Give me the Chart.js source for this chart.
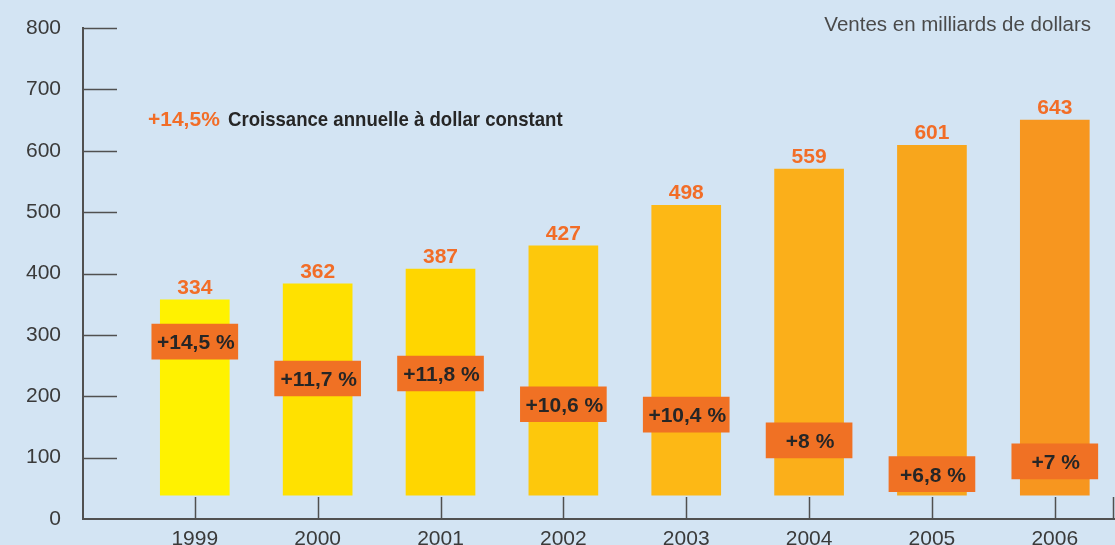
<!DOCTYPE html>
<html>
<head>
<meta charset="utf-8">
<script src="https://cdn.jsdelivr.net/npm/chart.js@4/dist/chart.umd.min.js"></script>
<style>
html,body{margin:0;padding:0;background:#d3e4f3;}
#wrap{width:1115px;height:545px;}
</style>
</head>
<body>
<div id="wrap"><canvas id="c" width="1115" height="545"></canvas></div>
<script>
// ---- data ----
const years = [1999, 2000, 2001, 2002, 2003, 2004, 2005, 2006];
const salesLabels = [334, 362, 387, 427, 498, 559, 601, 643];          // printed values
const barTops = [357, 383, 407, 445, 511, 570, 609, 650];              // bar top level on the axis
const barBase = 39;                                                     // common bar bottom level
const growthLabels = ['+14,5 %', '+11,7 %', '+11,8 %', '+10,6 %', '+10,4 %', '+8 %', '+6,8 %', '+7 %'];
const growthLevels = [289, 229, 237, 187, 170, 128, 73, 94];           // centre of orange tag
const growthTagHalf = 28.5;
const yTickValues = [0, 100, 200, 300, 400, 500, 600, 700, 800];
const barLeftColors  = ['#fff200', '#ffe100', '#ffd600', '#fdc80c', '#fdb815', '#fbaf1a', '#f8a61c', '#f7961f'];
const barRightColors = ['#ffe500', '#ffd700', '#ffcb00', '#fcbe10', '#fbad19', '#f9a21d', '#f7991e', '#f58a20'];

const AXIS = '#505050';
const ORANGE = '#f26d27';
const TAG = '#f07124';

function barGradient(ctx) {
  const chart = ctx.chart;
  const i = ctx.dataIndex;
  if (i === undefined || !chart.chartArea) return barLeftColors[0];
  const meta = chart.getDatasetMeta(ctx.datasetIndex);
  const el = meta.data[i];
  if (!el || el.x === undefined || isNaN(el.x)) return barLeftColors[i];
  const w = el.width || 69;
  const g = chart.ctx.createLinearGradient(el.x - w / 2, 0, el.x + w / 2, 0);
  g.addColorStop(0, barLeftColors[i]);
  g.addColorStop(1, barRightColors[i]);
  return g;
}

const tickMarks = {
  id: 'tickMarks',
  afterDraw(chart) {
    const {ctx, chartArea, scales: {x, y}} = chart;
    ctx.save();
    ctx.strokeStyle = AXIS;
    ctx.lineWidth = 1.5;
    ctx.beginPath();
    yTickValues.forEach(v => {
      if (v === 0) return;
      const py = Math.round(y.getPixelForValue(v)) + 0.5;
      ctx.moveTo(chartArea.left, py);
      ctx.lineTo(chartArea.left + 34, py);
    });
    years.concat([2006.47]).forEach(v => {
      const px = Math.round(x.getPixelForValue(v)) + 0.5;
      ctx.moveTo(px, chartArea.bottom);
      ctx.lineTo(px, chartArea.bottom - 22);
    });
    ctx.stroke();

    // value labels above the bars
    ctx.font = 'bold 21px "Liberation Sans", Arial, sans-serif';
    ctx.fillStyle = ORANGE;
    ctx.textAlign = 'center';
    ctx.textBaseline = 'alphabetic';
    const barMeta = chart.getDatasetMeta(1);
    barMeta.data.forEach((el, i) => {
      ctx.fillText(String(salesLabels[i]), el.x, el.y - 6);
    });

    // growth tag labels
    ctx.fillStyle = '#262626';
    ctx.textBaseline = 'middle';
    const tagMeta = chart.getDatasetMeta(0);
    tagMeta.data.forEach((el, i) => {
      const cy = (el.y + el.base) / 2;
      ctx.fillText(growthLabels[i], el.x + 1, cy + 2);
    });

    // caption
    ctx.textAlign = 'left';
    ctx.textBaseline = 'alphabetic';
    ctx.font = 'bold 21px "Liberation Sans", Arial, sans-serif';
    ctx.fillStyle = ORANGE;
    ctx.fillText('+14,5%', 148, 126);
    ctx.save();
    ctx.translate(228, 126);
    ctx.scale(0.885, 1);
    ctx.fillStyle = '#262626';
    ctx.fillText('Croissance annuelle à dollar constant', 0, 0);
    ctx.restore();

    ctx.font = '20.5px "Liberation Sans", Arial, sans-serif';
    ctx.fillStyle = '#4a4a4a';
    ctx.textAlign = 'right';
    ctx.fillText('Ventes en milliards de dollars', 1091, 31);
    ctx.restore();
  }
};

new Chart(document.getElementById('c'), {
  type: 'bar',
  data: {
    labels: years,
    datasets: [
      {
        label: 'Croissance',
        data: growthLevels.map(v => [v - growthTagHalf, v + growthTagHalf]),
        backgroundColor: TAG,
        barThickness: 86,
        grouped: false,
        order: 1
      },
      {
        label: 'Ventes',
        data: barTops.map(v => [barBase, v]),
        backgroundColor: barGradient,
        barThickness: 69,
        grouped: false,
        order: 2
      }
    ]
  },
  options: {
    responsive: false,
    animation: false,
    events: [],
    layout: {padding: {top: 28, right: 0, left: 0, bottom: 0}},
    plugins: {legend: {display: false}, tooltip: {enabled: false}},
    scales: {
      x: {
        type: 'linear',
        offset: false,
        min: 1998.09,
        max: 2006.49,
        afterBuildTicks: s => { s.ticks = years.map(v => ({value: v})); },
        afterFit: s => { s.height = 26; s.paddingLeft = 0; s.paddingRight = 0; },
        grid: {display: false, drawTicks: false, offset: false},
        border: {display: true, color: AXIS, width: 2},
        ticks: {
          padding: 8,
          color: '#3a3a3a',
          font: {family: '"Liberation Sans", Arial, sans-serif', size: 21},
          callback: v => String(v),
          maxRotation: 0,
          autoSkip: false
        }
      },
      y: {
        min: 0,
        max: 800,
        afterBuildTicks: s => { s.ticks = yTickValues.map(v => ({value: v})); },
        afterFit: s => { s.width = 83; s.paddingTop = 0; s.paddingBottom = 0; },
        grid: {display: false, drawTicks: false},
        border: {display: true, color: AXIS, width: 2},
        ticks: {
          padding: 22,
          color: '#3a3a3a',
          font: {family: '"Liberation Sans", Arial, sans-serif', size: 21}
        }
      }
    }
  },
  plugins: [tickMarks]
});
</script>
</body>
</html>
